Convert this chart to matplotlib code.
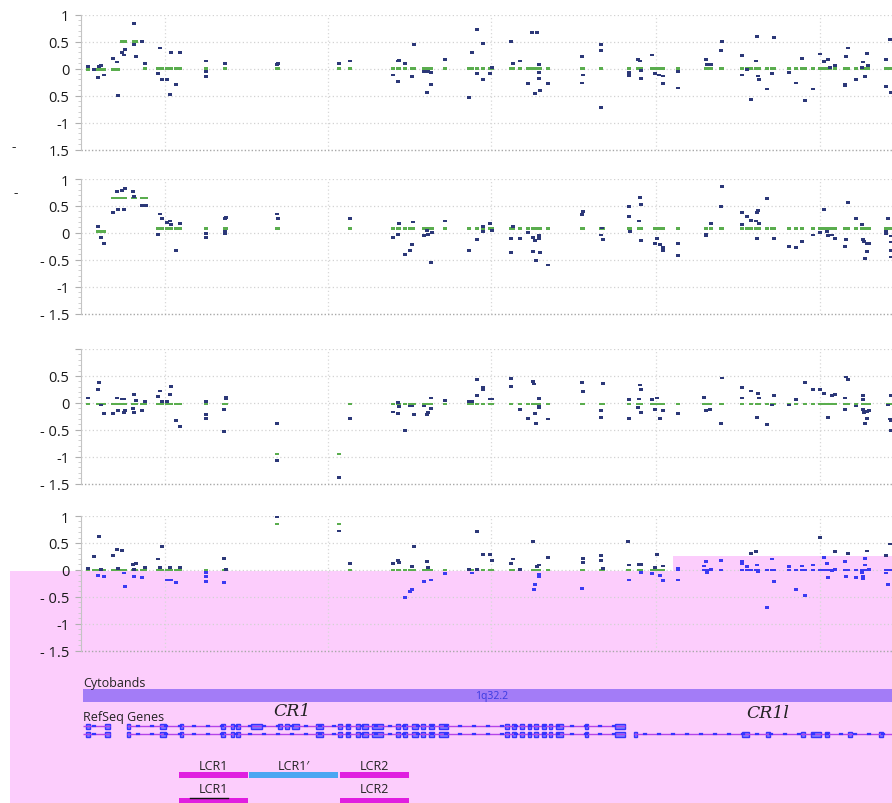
import matplotlib
matplotlib.use("Agg")
import matplotlib.pyplot as plt
import matplotlib.patches as mpatches
import numpy as np

plt.rcParams['font.family'] = ['Open Sans', 'DejaVu Sans']

# ---------------- data (positions in arbitrary genomic units) ----------------
p1_pos = [88, 94, 98, 99, 101, 104, 113, 117, 118, 122, 124, 125, 134, 134, 136, 142, 145,
          158, 160, 162, 167, 170, 171, 176, 180, 206, 206, 206, 225, 277, 278, 339, 350,
          393, 398, 398, 399, 405, 412, 414, 424, 428, 427, 431, 431, 445,
          469, 472, 477, 477, 483, 483, 490, 492, 511, 513, 520, 528, 532, 537, 535, 539, 539,
          539, 540, 548, 582, 583, 582, 601, 601, 601, 629, 629, 638, 640, 641, 641, 652, 655,
          659, 663, 663, 678, 678, 706, 707, 711, 721, 722, 742, 742, 747, 756, 757, 758, 759,
          751, 767, 772, 774, 789, 796, 802, 805, 813, 820, 824, 828, 830, 835, 845, 845, 846,
          848, 856, 862, 863, 865, 867, 868, 886, 886, 890, 891]
p1_val = [0.04, -0.02, -0.17, 0.04, 0.06, -0.12, 0.18, 0.12, -0.5, 0.3, 0.25, 0.35, 0.84, 0.44,
          0.22, 0.5, 0.1, -0.09, 0.38, -0.2, -0.2, -0.48, 0.3, -0.3, 0.3, 0.14, -0.06, -0.15,
          0.1, 0.08, 0.1, 0.1, 0.14, -0.12, -0.24, 0.14, 0.15, 0.09, -0.15, 0.45, -0.06, -0.06,
          -0.44, -0.07, -0.3, 0.16,
          -0.54, 0.3, 0.72, -0.09, 0.47, -0.2, -0.09, 0.02, 0.5, 0.1, 0.14, -0.28, 0.67, 0.67,
          -0.46, 0.07, -0.08, -0.18, -0.41, -0.28, 0.22, -0.12, -0.27, 0.45, 0.33, -0.72, -0.08,
          -0.13, 0.16, 0.14, -0.04, -0.18, 0.25, -0.1, -0.12, -0.14, -0.28, -0.06, -0.36, 0.16,
          0.07, 0.07, 0.33, 0.5, 0.24, -0.12, -0.02, 0.14, 0.59, -0.14, -0.21, -0.57, -0.38,
          -0.09, 0.58, -0.08, -0.27, 0.18, -0.6, -0.38, 0.27, 0.13, 0.16, 0.02, 0.06, -0.29,
          -0.31, 0.22, 0.38, -0.2, 0.02, 0.12, -0.15, 0.28, 0.06, 0.16, -0.33, 0.54, -0.45]
p1_seg_start = [80, 120, 144]
p1_seg_end = [119, 143, 900]
p1_seg_mean = [-0.02, 0.5, 0.0]

p2_pos = [98, 101, 104, 113, 117, 118, 122, 124, 125, 133, 135, 134, 142, 146, 158, 160, 162,
          167, 170, 171, 176, 180, 206, 206, 225, 226, 225, 225, 277, 278, 350, 393, 398, 399,
          405, 410, 412, 413, 424, 427, 428, 431, 432, 445,
          469, 477, 483, 483, 490, 492, 511, 511, 513, 520, 528, 533, 535, 533, 536, 539, 539,
          540, 548, 582, 583, 601, 603, 602, 629, 629, 630, 640, 641, 639, 641, 657, 655, 660,
          663, 663, 678, 678, 706, 706, 711, 721, 722, 742, 742, 747, 751, 756, 757, 758, 759,
          757, 767, 772, 774, 789, 796, 802, 813, 820, 824, 827, 828, 832, 835, 845, 846, 848,
          856, 862, 863, 864, 867, 867, 865, 869, 886, 886, 888, 891, 891, 891, 891]
p2_val = [0.12, -0.09, -0.2, 0.38, 0.76, 0.44, 0.79, 0.43, 0.83, 0.77, 1.02, 0.68, 0.51, 0.51,
          -0.03, 0.35, 0.27, 0.19, 0.22, 0.16, -0.33, 0.17, -0.02, -0.09, 0.26, 0.29, 0.02,
          -0.01, 0.35, 0.26, 0.27, -0.09, -0.03, 0.17, -0.4, -0.33, -0.22, 0.2, -0.05, 0.04,
          -0.03, -0.55, 0.01, 0.22,
          -0.33, -0.12, 0.12, 0.02, 0.18, 0.04, -0.1, -0.36, 0.12, -0.1, 0.0, -0.08, -0.14,
          -0.34, -0.52, -0.05, -0.1, -0.37, -0.6, 0.34, 0.39, -0.04, -0.12, 0.09, 0.49, 0.3,
          0.02, 0.66, 0.53, 0.22, -0.14, -0.1, -0.2, -0.22, -0.27, -0.33, -0.2, -0.42, -0.03,
          -0.06, 0.17, 0.49, 0.86, 0.38, 0.16, 0.3, 0.23, 0.22, 0.38, 0.42, 0.17, -0.1, 0.63,
          1.07, -0.1, -0.25, -0.27, -0.16, -0.04, 0.0, 0.43, 0.02, -0.05, -0.04, -0.1, -0.25,
          -0.13, 0.57, 0.27, 0.16, -0.13, -0.16, -0.2, -0.34, -0.48, -0.2, 0.02, -0.02, 0.27,
          -0.06, -0.17, -0.33, -0.45]
p2_seg_start = [80, 110, 150]
p2_seg_end = [105, 147, 900]
p2_seg_mean = [0.02, 0.65, 0.08]

p3_pos = [88, 98, 99, 101, 104, 113, 117, 118, 122, 124, 124, 125, 134, 134, 133, 136, 142,
          145, 158, 160, 162, 167, 170, 171, 176, 180, 206, 206, 206, 224, 224, 226, 226, 277,
          277, 339, 350, 393, 398, 398, 399, 405, 410, 412, 414, 424, 427, 428, 431, 431, 445,
          469, 472, 477, 477, 483, 483, 490, 492, 511, 511, 520, 528, 533, 534, 535, 536, 539,
          539, 539, 548, 582, 583, 601, 601, 603, 629, 629, 639, 640, 641, 638, 641, 652, 657,
          655, 660, 663, 678, 704, 706, 710, 722, 721, 742, 742, 751, 758, 759, 757, 767, 774,
          772, 789, 796, 805, 813, 820, 824, 828, 832, 835, 846, 848, 845, 845, 856, 863, 863,
          863, 864, 867, 869, 867, 865, 888, 891, 890, 891, 891]
p3_val = [0.09, 0.25, 0.37, -0.04, -0.2, -0.2, 0.09, -0.15, 0.07, 0.07, -0.18, -0.14, 0.15,
          -0.18, -0.1, 0.04, -0.14, 0.02, 0.12, 0.22, 0.03, 0.03, 0.15, 0.3, -0.33, -0.44, 0.02,
          -0.21, -0.29, -0.12, -0.53, 0.1, 0.07, -0.38, -1.08, -1.39, -0.29, -0.17, 0.01, -0.2,
          -0.07, -0.51, -0.06, -0.06, -0.22, -0.06, -0.22, -0.18, 0.09, -0.1, 0.05,
          0.02, 0.02, 0.43, 0.13, 0.28, 0.25, 0.07, 0.07, 0.45, 0.31, -0.12, -0.29, 0.39, 0.35,
          -0.2, -0.38, 0.08, -0.09, -0.06, -0.3, 0.37, 0.21, -0.15, -0.27, 0.36, 0.06, -0.29,
          0.07, 0.33, 0.25, -0.08, -0.18, 0.06, 0.09, -0.12, -0.29, -0.14, -0.2, 0.1, -0.14,
          -0.12, 0.46, -0.38, 0.28, 0.09, 0.22, 0.17, 0.09, -0.27, -0.4, 0.13, -0.04, -0.04,
          0.06, 0.37, 0.24, 0.25, 0.17, -0.27, 0.13, 0.16, 0.48, 0.43, 0.09, -0.12, -0.06, 0.13,
          0.06, -0.12, -0.18, -0.16, -0.14, -0.29, -0.38, -0.04, 0.14, -0.3, -0.33, -0.51]
p3_seg_start = [80, 270, 345]
p3_seg_end = [269, 344, 900]
p3_seg_mean = [-0.02, -0.95, -0.02]

p4_pos = [88, 94, 98, 99, 101, 104, 113, 117, 118, 122, 124, 125, 133, 136, 134, 134, 142, 145,
          158, 160, 162, 167, 170, 171, 176, 180, 206, 206, 206, 224, 224, 226, 277, 339, 350,
          393, 398, 399, 405, 410, 412, 412, 414, 424, 427, 428, 431, 445,
          469, 472, 477, 477, 483, 490, 492, 511, 513, 520, 533, 535, 534, 537, 539, 539, 539,
          548, 582, 583, 583, 601, 601, 603, 628, 629, 629, 639, 641, 641, 652, 657, 655, 660,
          663, 663, 678, 678, 704, 706, 707, 711, 721, 742, 742, 747, 751, 756, 757, 758, 767,
          772, 774, 789, 796, 802, 805, 813, 820, 824, 827, 828, 835, 832, 835, 845, 846, 848,
          856, 862, 863, 863, 865, 867, 865, 869, 886, 886, 888, 890]
p4_val = [0.02, 0.24, -0.1, 0.62, 0.01, -0.12, 0.27, 0.38, 0.02, 0.36, -0.06, -0.31, 0.1,
          0.12, -0.12, 0.01, -0.15, 0.04, 0.2, 0.04, 0.43, -0.19, 0.04, -0.19, -0.24, 0.04,
          -0.05, -0.13, -0.21, 0.21, -0.24, 0.01, 0.99, 0.72, 0.12, 0.12, 0.18, 0.14, -0.52,
          -0.41, -0.37, 0.06, 0.43, -0.22, 0.15, 0.04, -0.19, -0.07,
          0.01, -0.06, 0.71, 0.01, 0.29, 0.29, 0.17, 0.12, 0.2, 0.0, 0.53, -0.28, -0.37, 0.06,
          0.09, -0.08, -0.13, 0.23, -0.34, 0.21, 0.14, 0.27, 0.18, 0.03, 0.53, 0.09, -0.19, 0.1,
          0.1, -0.05, -0.07, 0.29, 0.04, -0.1, 0.07, -0.2, 0.02, -0.19, 0.07, 0.15, -0.05, 0.0,
          0.17, 0.16, 0.11, 0.06, 0.3, 0.34, 0.09, -0.03, -0.7, 0.2, -0.21, 0.06, -0.36, 0.07,
          -0.48, 0.09, 0.6, 0.23, 0.12, -0.14, 0.34, -0.02, 0.0, 0.16, -0.12, 0.3, -0.15, -0.05,
          -0.12, -0.17, 0.21, 0.35, 0.09, 0.01, 0.27, -0.06, -0.28, 0.48]
p4_seg_start = [80, 270, 345]
p4_seg_end = [269, 344, 900]
p4_seg_mean = [0.0, 0.85, 0.0]

ytick_vals = [1, 0.5, 0, -0.5, -1, -1.5]
p1_ytick_labels = ['1', '0.5', '0', '0.5', '-1', '1.5']
p2_ytick_labels = ['1', '0.5', '0', '- 0.5', '-1', '- 1.5']
p3_ytick_labels = ['', '0.5', '0', '- 0.5', '-1', '- 1.5']
p4_ytick_labels = ['1', '0.5', '0', '- 0.5', '-1', '- 1.5']

grid_x = [165, 328, 491, 656, 820]

# gene track data
cr1_upper_exons = [(86, 90), (105, 110), (127, 130), (160, 166), (180, 183), (221, 225),
                   (231, 234), (236, 240), (251, 262), (278, 282), (285, 289), (292, 299),
                   (316, 323), (338, 342), (346, 350), (356, 360), (362, 368), (372, 383),
                   (396, 400), (403, 407), (412, 418), (421, 425), (429, 434), (439, 448),
                   (505, 509), (512, 516), (520, 524), (528, 531), (534, 538), (542, 546),
                   (549, 552), (556, 563), (585, 588), (615, 625)]
cr1_lower_exons = [(86, 90), (105, 110), (127, 130), (160, 166), (180, 183), (221, 225),
                   (231, 234), (236, 240), (316, 323), (338, 342), (346, 350), (356, 360),
                   (362, 368), (372, 383), (396, 400), (403, 407), (412, 418), (421, 425),
                   (429, 434), (439, 448), (505, 509), (512, 516), (520, 524), (528, 531),
                   (534, 538), (542, 546), (549, 552), (556, 563), (585, 588), (615, 625)]
cr1_introns = [(83, 110), (127, 625)]
cr1l_exons = [(634, 637), (742, 749), (766, 770), (801, 805), (811, 821), (825, 829),
              (848, 852), (879, 883)]
cr1l_introns = [(634, 892)]
lcr_row1_names = ['LCR1', "LCR1\u2032", 'LCR2']
lcr_row1_start = [179, 249, 340]
lcr_row1_end = [248, 338, 409]
lcr_row2_names = ['LCR1', 'LCR2']
lcr_row2_start = [179, 340]
lcr_row2_end = [248, 409]

# ---------------- figure ----------------
W, H = 892, 804
fig = plt.figure(figsize=(W / 100, H / 100), dpi=100)
fig.patch.set_facecolor('white')


def rect(x0, y0, x1, y1):
    return [x0 / W, 1 - y1 / H, (x1 - x0) / W, (y1 - y0) / H]


NAVY = '#2c3878'
GREEN = '#5aad4e'
BLUE_PINK = '#3a3af2'
PINK = '#fccdfc'

# pink overlay (behind axes)
pink_px = [(10, 572), (673, 572), (673, 557), (892, 557), (892, 804), (10, 804)]
pink_poly = mpatches.Polygon([(x / W, 1 - y / H) for x, y in pink_px], closed=True,
                             transform=fig.transFigure, facecolor=PINK, edgecolor='none',
                             zorder=-5)
fig.add_artist(pink_poly)


def in_pink(disp_x, disp_y):
    # display coordinates (origin bottom-left, pixels)
    y_top = H - disp_y
    if disp_x >= 10 and y_top >= 572:
        return True
    if disp_x >= 673 and y_top >= 557:
        return True
    return False


panels = [
    (rect(81, 15.5, 892, 150.5), p1_pos, p1_val, p1_seg_start, p1_seg_end, p1_seg_mean, p1_ytick_labels),
    (rect(81, 180, 892, 314.5), p2_pos, p2_val, p2_seg_start, p2_seg_end, p2_seg_mean, p2_ytick_labels),
    (rect(81, 350, 892, 484.5), p3_pos, p3_val, p3_seg_start, p3_seg_end, p3_seg_mean, p3_ytick_labels),
    (rect(81, 517, 892, 651.5), p4_pos, p4_val, p4_seg_start, p4_seg_end, p4_seg_mean, p4_ytick_labels),
]

sq = [(-1, -0.72), (1, -0.72), (1, 0.72), (-1, 0.72)]
dash = [(-1, -0.6), (1, -0.6), (1, 0.6), (-1, 0.6)]

for idx, (r, pos, val, s0, s1, sm, labels) in enumerate(panels):
    ax = fig.add_axes(r)
    ax.set_facecolor('none')
    ax.set_xlim(81, 892)
    ax.set_ylim(-1.5, 1.0)
    for sp in ['top', 'right', 'bottom']:
        ax.spines[sp].set_visible(False)
    ax.spines['left'].set_color('#c4c4c4')
    ax.spines['left'].set_linewidth(0.8)
    ax.set_xticks([])
    ax.set_yticks(ytick_vals)
    ax.set_yticklabels(labels, fontsize=10.5, color='#1a1a1a')
    ax.set_yticks(np.arange(-1.5, 1.01, 0.1), minor=True)
    ax.tick_params(axis='y', which='major', length=4, color='#b0b0b0', pad=4.5)
    ax.tick_params(axis='y', which='minor', length=2.5, color='#c8c8c8')
    for yv in [1, 0.5, 0, -0.5, -1]:
        ax.axhline(yv, color='#d2d2d2', lw=0.9, ls=(0, (1, 2)), zorder=1)
    ax.axhline(-1.5, color='#a8a8a8', lw=1.0, ls=(0, (1, 1.5)), zorder=1, clip_on=False)
    for gx in grid_x:
        ax.axvline(gx, color='#d8d8d8', lw=0.9, ls=(0, (1, 2)), zorder=1)

    pos = np.asarray(pos, float)
    val = np.asarray(val, float)
    seg = np.zeros_like(pos)
    for a, b, m in zip(s0, s1, sm):
        seg[(pos >= a) & (pos <= b)] = m

    green_cols = [GREEN] * len(pos)
    blue_cols = [NAVY] * len(pos)
    if idx == 3:
        tr = ax.transData
        dg = tr.transform(np.column_stack([pos, seg]))
        db = tr.transform(np.column_stack([pos, val]))
        green_cols = [BLUE_PINK if in_pink(x, y) else GREEN for x, y in dg]
        blue_cols = [BLUE_PINK if in_pink(x, y) else NAVY for x, y in db]

    ax.scatter(pos, seg, marker=dash, s=9, c=green_cols, linewidths=0, zorder=3)
    ax.scatter(pos, val, marker=sq, s=8, c=blue_cols, linewidths=0, zorder=4)

# stray minus signs on the left
fig.text(12 / W, 1 - 148 / H, '-', fontsize=10, color='#333333', va='center', ha='left')
fig.text(13 / W, 1 - 193 / H, '-', fontsize=10, color='#333333', va='center', ha='left')

# ---------------- gene track ----------------
gax = fig.add_axes(rect(81, 655, 892, 804))
gax.set_facecolor('none')
gax.set_xlim(81, 892)
gax.set_ylim(804, 655)
gax.axis('off')

gax.text(83, 684, 'Cytobands', fontsize=9, color='#222222', va='center', ha='left')
gax.add_patch(mpatches.Rectangle((83, 690), 892 - 83, 13, facecolor='#a37cf7',
                                 edgecolor='none'))
gax.text(492, 697, '1q32.2', fontsize=7.5, color='#3a3ae0', va='center', ha='center')
gax.text(83, 717, 'RefSeq Genes', fontsize=9, color='#222222', va='center', ha='left')
gax.text(292, 712, 'CR1', fontsize=12.5, style='italic', family='DejaVu Serif',
         color='#222222', va='center', ha='center')
gax.text(768, 713, 'CR1l', fontsize=12.5, style='italic', family='DejaVu Serif',
         color='#222222', va='center', ha='center')

LINE = '#b444e8'
EXON = '#3434ff'


def draw_transcript(yc, introns, exons):
    for a, b in introns:
        gax.plot([a, b], [yc, yc], color=LINE, lw=1.0, solid_capstyle='butt')
        for t in np.arange(a + 10, b - 5, 14):
            gax.plot([t, t + 1.5], [yc, yc], color=EXON, lw=1.6)
    for a, b in exons:
        gax.add_patch(mpatches.Rectangle((a, yc - 2.5), b - a, 5.0, facecolor='#7d7dff',
                                         edgecolor=EXON, lw=1.0))


draw_transcript(727, cr1_introns, cr1_upper_exons)
draw_transcript(735, cr1_introns, cr1_lower_exons)
draw_transcript(735, cr1l_introns, cr1l_exons)

row1_cols = ['#e01ee0', '#4aa6f2', '#e01ee0']
for name, a, b, c in zip(lcr_row1_names, lcr_row1_start, lcr_row1_end, row1_cols):
    gax.add_patch(mpatches.Rectangle((a, 773), b - a, 5.5, facecolor=c, edgecolor='none'))
    gax.text((a + b) / 2, 766, name, fontsize=9, color='#222222', va='center', ha='center')
for name, a, b in zip(lcr_row2_names, lcr_row2_start, lcr_row2_end):
    gax.add_patch(mpatches.Rectangle((a, 799), b - a, 6, facecolor='#e01ee0',
                                     edgecolor='none', clip_on=False))
    gax.text((a + b) / 2, 790, name, fontsize=9, color='#222222', va='center', ha='center')
gax.plot([190, 228], [798.5, 798.5], color='#111111', lw=1.0)

fig.savefig('out.png', dpi=100)
